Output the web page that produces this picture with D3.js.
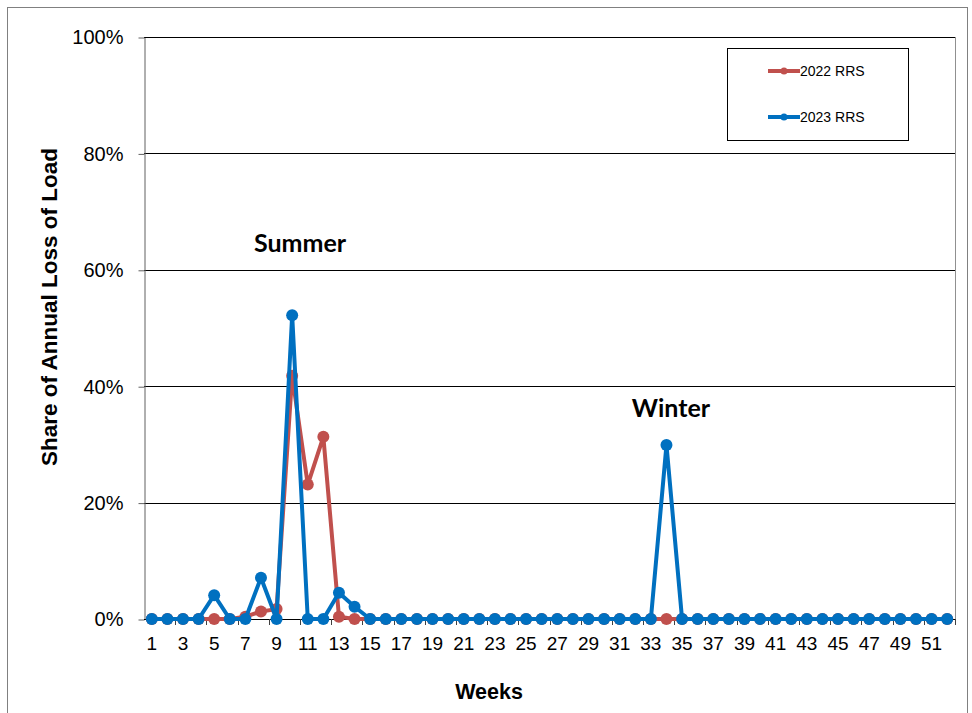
<!DOCTYPE html>
<html>
<head>
<meta charset="utf-8">
<script src="https://cdn.jsdelivr.net/npm/d3@7"></script>
<style>
  body { margin: 0; background: #fff; }
  svg text { font-family: "Liberation Sans", Arial, sans-serif; }
</style>
</head>
<body>
<div id="chart"></div>
<script>
// weeks 1..52
var weeks = d3.range(1, 53);
// share of annual loss of load, per week
var rrs2022 = [0,0,0,0,0,0,0.004,0.013,0.017,0.418,0.231,0.313,0.004,0,0,0,0,0,0,0,0,0,0,0,0,0,
               0,0,0,0,0,0,0,0,0,0,0,0,0,0,0,0,0,0,0,0,0,0,0,0,0,0];
var rrs2023 = [0,0,0,0,0.041,0,0,0.071,0,0.522,0,0,0.045,0.021,0,0,0,0,0,0,0,0,0,0,0,0,
               0,0,0,0,0,0,0,0.299,0,0,0,0,0,0,0,0,0,0,0,0,0,0,0,0,0,0];
var seriesNames = ["2022 RRS", "2023 RRS"];
var seriesColors = ["#C0504D", "#0070C0"];
var yTicks = [0, 0.2, 0.4, 0.6, 0.8, 1];

(function() {
  var width = 972, height = 713;
  var plot = {left: 144, right: 955, top: 37, bottom: 619};

  var svg = d3.select("#chart").append("svg")
      .attr("width", width)
      .attr("height", height);

  // outer chart border
  svg.append("rect")
    .attr("x", 7.5).attr("y", 7.5)
    .attr("width", 960).attr("height", 720)
    .attr("fill", "none").attr("stroke", "#808080").attr("stroke-width", 1);

  var x = d3.scaleBand().domain(weeks).range([plot.left, plot.right]);
  var y = d3.scaleLinear().domain([0, 1]).range([plot.bottom, plot.top]);
  var cx = function(w) { return x(w) + x.bandwidth() / 2; };

  // gridlines
  svg.append("g").selectAll("line")
    .data(yTicks.filter(function(d) { return d > 0; }))
    .enter().append("line")
    .attr("x1", plot.left).attr("x2", plot.right)
    .attr("y1", function(d) { return Math.round(y(d)) + 0.5; })
    .attr("y2", function(d) { return Math.round(y(d)) + 0.5; })
    .attr("stroke", "#000").attr("stroke-width", 1);

  // right edge of plot area
  svg.append("line")
    .attr("x1", plot.right + 0.5).attr("x2", plot.right + 0.5)
    .attr("y1", plot.top).attr("y2", plot.bottom)
    .attr("stroke", "#909090");

  // y axis
  var yAxis = svg.append("g")
    .attr("transform", "translate(" + (plot.left + 0.5) + ",0.5)")
    .call(d3.axisLeft(y).tickValues(yTicks).tickFormat(d3.format(".0%")).tickSize(6).tickSizeOuter(0));
  yAxis.select(".domain").attr("stroke", "#606060");
  yAxis.selectAll(".tick line").attr("stroke", "#606060");
  yAxis.selectAll("text").attr("font-size", 20).attr("fill", "#000").attr("x", -21);

  // x axis line
  svg.append("line")
    .attr("x1", plot.left).attr("x2", plot.right)
    .attr("y1", plot.bottom + 0.5).attr("y2", plot.bottom + 0.5)
    .attr("stroke", "#000");

  // x tick marks at boundaries every two weeks
  var tickWeeks = weeks.filter(function(w) { return w % 2 === 1 && w > 1; });
  svg.append("g").selectAll("line")
    .data(tickWeeks)
    .enter().append("line")
    .attr("x1", function(w) { return Math.round(x(w)) + 0.5; })
    .attr("x2", function(w) { return Math.round(x(w)) + 0.5; })
    .attr("y1", plot.bottom).attr("y2", plot.bottom + 6)
    .attr("stroke", "#404040");
  svg.append("line")
    .attr("x1", plot.right + 0.5).attr("x2", plot.right + 0.5)
    .attr("y1", plot.bottom).attr("y2", plot.bottom + 6)
    .attr("stroke", "#404040");

  // x labels (odd weeks)
  svg.append("g").selectAll("text")
    .data(weeks.filter(function(w) { return w % 2 === 1; }))
    .enter().append("text")
    .attr("x", cx)
    .attr("y", 650)
    .attr("text-anchor", "middle")
    .attr("font-size", 19)
    .text(function(w) { return w; });

  // series
  var allSeries = [rrs2022, rrs2023];
  var line = d3.line()
    .x(function(d, i) { return cx(weeks[i]); })
    .y(function(d) { return y(d); });

  allSeries.forEach(function(vals, s) {
    var g = svg.append("g");
    g.append("path")
      .datum(vals)
      .attr("d", line)
      .attr("fill", "none")
      .attr("stroke", seriesColors[s])
      .attr("stroke-width", 4)
      .attr("stroke-linejoin", "round");
    g.selectAll("circle")
      .data(vals)
      .enter().append("circle")
      .attr("cx", function(d, i) { return cx(weeks[i]); })
      .attr("cy", function(d) { return y(d); })
      .attr("r", 6)
      .attr("fill", seriesColors[s]);
  });

  // annotations
  svg.append("text").attr("x", 300).attr("y", 252)
    .attr("text-anchor", "middle").attr("font-size", 25).attr("font-weight", "bold")
    .style("font-family", "Lato, sans-serif")
    .text("Summer");
  svg.append("text").attr("x", 671).attr("y", 417)
    .attr("text-anchor", "middle").attr("font-size", 25).attr("font-weight", "bold")
    .style("font-family", "Lato, sans-serif")
    .text("Winter");

  // axis titles
  svg.append("text")
    .attr("transform", "translate(57,307) rotate(-90)")
    .attr("text-anchor", "middle").attr("font-size", 22.5).attr("font-weight", "bold")
    .text("Share of Annual Loss of Load");
  svg.append("text").attr("x", 489).attr("y", 699)
    .attr("text-anchor", "middle").attr("font-size", 21.5).attr("font-weight", "bold")
    .text("Weeks");

  // legend
  var legend = svg.append("g");
  legend.append("rect")
    .attr("x", 727.5).attr("y", 48.5).attr("width", 181).attr("height", 92)
    .attr("fill", "#fff").attr("stroke", "#000");
  var legendY = [71, 117];
  seriesNames.forEach(function(name, s) {
    legend.append("line")
      .attr("x1", 768).attr("x2", 800)
      .attr("y1", legendY[s]).attr("y2", legendY[s])
      .attr("stroke", seriesColors[s]).attr("stroke-width", 4);
    legend.append("circle")
      .attr("cx", 784).attr("cy", legendY[s]).attr("r", 3.5)
      .attr("fill", seriesColors[s]);
    legend.append("text")
      .attr("x", 800).attr("y", legendY[s] + 5)
      .attr("font-size", 14)
      .text(name);
  });
})();
</script>
</body>
</html>
